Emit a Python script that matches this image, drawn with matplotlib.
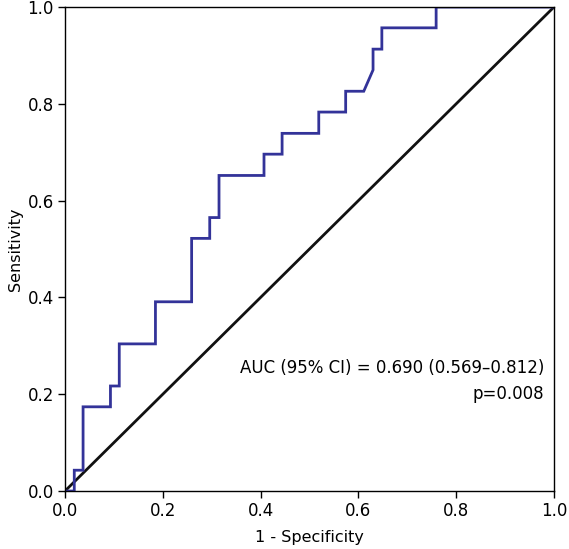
import numpy as np
import matplotlib.pyplot as plt

# ROC curve steps
fpr = [0.0, 0.019, 0.019, 0.037, 0.037, 0.093, 0.093, 0.111, 0.111, 0.185, 0.185,
       0.259, 0.259, 0.296, 0.296, 0.315, 0.315, 0.407, 0.407, 0.444, 0.444,
       0.519, 0.519, 0.574, 0.574, 0.611, 0.630, 0.630, 0.648, 0.648, 0.759, 0.759, 1.0]
tpr = [0.0, 0.0, 0.043, 0.043, 0.174, 0.174, 0.217, 0.217, 0.304, 0.304, 0.391,
       0.391, 0.522, 0.522, 0.565, 0.565, 0.652, 0.652, 0.696, 0.696, 0.739,
       0.739, 0.783, 0.783, 0.826, 0.826, 0.870, 0.913, 0.913, 0.957, 0.957, 1.0, 1.0]

ticks = [0.0, 0.2, 0.4, 0.6, 0.8, 1.0]
auc_text = "AUC (95% CI) = 0.690 (0.569\u20130.812)"
p_text = "p=0.008"

plt.rcParams['font.family'] = ['DejaVu Sans']

fig = plt.figure(figsize=(5.69, 5.49), dpi=100)
ax = fig.add_axes([0.1142, 0.1056, 0.8594, 0.8816])

ax.plot([0, 1], [0, 1], color='#111111', lw=2)
ax.plot(fpr, tpr, color='#333399', lw=2, solid_joinstyle='miter')

ax.set_xlim(0, 1)
ax.set_ylim(0, 1)
ax.set_xticks(ticks)
ax.set_yticks(ticks)
ax.set_xticklabels([f"{t:.1f}" for t in ticks])
ax.set_yticklabels([f"{t:.1f}" for t in ticks])
ax.tick_params(direction='out', length=5, width=1, labelsize=12, pad=3)

for s in ax.spines.values():
    s.set_linewidth(1)
    s.set_color('black')

ax.set_xlabel("1 - Specificity", fontsize=11.5, labelpad=7)
ax.set_ylabel("Sensitivity", fontsize=11.5, labelpad=3)

ax.text(0.98, 0.255, auc_text, ha='right', va='center', fontsize=12)
ax.text(0.98, 0.2, p_text, ha='right', va='center', fontsize=12)

fig.savefig('out.png', dpi=100)
